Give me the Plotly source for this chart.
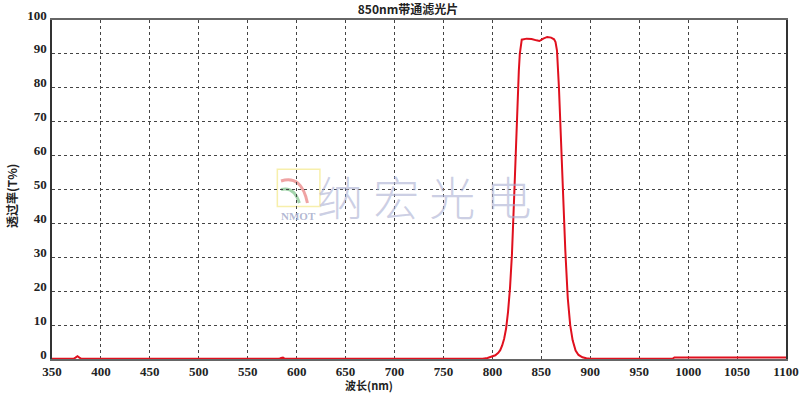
import plotly.graph_objects as go

wavelength = [350, 372, 374, 376, 378, 380, 400, 500, 582, 584, 586, 588, 700, 780, 790, 795, 800, 803, 806, 808, 810, 812,
              814, 816, 818, 820, 822, 824, 826, 827, 828, 829, 830, 835, 840, 845, 848, 852, 856, 860, 863, 864.5,
              866, 868, 870, 872, 874.5, 877, 879.5, 882, 885, 888, 892, 896, 900, 950, 984, 986, 1100]
transmission = [0.05, 0.05, 0.4, 0.8, 0.4, 0.05, 0.05, 0.05, 0.05, 0.3, 0.4, 0.05, 0.05, 0.05, 0.1, 0.3, 0.7, 1.1, 1.8, 2.6, 4, 6,
                9, 14, 21, 31, 46, 63, 78, 85, 90, 93, 94.2, 94.5, 94.4, 94.0, 93.8, 94.5, 95.0, 94.8, 94.3, 93.5,
                91, 80, 65, 48, 32, 18, 10, 5.5, 2.5, 1.2, 0.5, 0.2, 0.1, 0.05, 0.05, 0.45, 0.45]

title_text = "850nm带通滤光片"
x_title = "波长(nm)"
y_title = "透过率(T%)"
x_ticks = list(range(350, 1101, 50))
y_ticks = list(range(0, 101, 10))

serif = "'Liberation Serif', 'DejaVu Serif', serif"
tickfont = dict(family=serif, size=13, color="#222", weight="bold")
cjk = "Noto Sans CJK SC"

fig = go.Figure()
fig.add_trace(go.Scatter(x=wavelength, y=transmission, mode="lines",
                         line=dict(color="#e0101e", width=2), line_shape="linear",
                         hoverinfo="skip", showlegend=False))

fig.update_layout(
    width=800, height=394,
    margin=dict(l=52, r=14, t=20, b=35, autoexpand=False),
    paper_bgcolor="white", plot_bgcolor="white",
    title=dict(text=title_text, x=0.51, xanchor="center", y=0.985, yanchor="top",
               font=dict(family=cjk, size=12, color="#222", weight="bold")),
)
fig.update_xaxes(range=[350, 1100], tickvals=x_ticks, ticks="", tickfont=tickfont, automargin=False,
                 ticklabelstandoff=0,
                 showgrid=True, gridcolor="#444", griddash="dot", gridwidth=1,
                 showline=True, linecolor="#666", linewidth=1.5, mirror=True, zeroline=False)
fig.update_yaxes(range=[0, 100], tickvals=y_ticks, ticks="", tickfont=tickfont, automargin=False,
                 ticklabelstandoff=1, ticklabelshift=-5,
                 showgrid=True, gridcolor="#444", griddash="dot", gridwidth=1,
                 showline=True, linecolor="#333", linewidth=1.5, mirror=True, zeroline=False)

fig.add_annotation(text=x_title, xref="paper", yref="paper", x=0.432, y=-0.1035, yanchor="bottom", showarrow=False,
                   borderpad=0, font=dict(family=cjk, size=11, color="#222", weight="bold"))
fig.add_annotation(text=y_title, xref="paper", yref="paper", x=-0.055, y=0.48, xanchor="center", yanchor="middle",
                   textangle=-90, showarrow=False,
                   font=dict(family=cjk, size=12, color="#222", weight="bold"))

# watermark logo
fig.add_shape(type="rect", xref="paper", yref="paper", x0=0.307, x1=0.365, y0=0.45, y1=0.56,
              line=dict(color="rgba(245,235,150,0.8)", width=1.5), layer="below")
fig.add_shape(type="path", xref="paper", yref="paper",
              path="M 0.312 0.525 Q 0.340 0.545 0.348 0.46", line=dict(color="rgba(235,140,140,0.8)", width=3), layer="below")
fig.add_shape(type="path", xref="paper", yref="paper",
              path="M 0.312 0.50 Q 0.330 0.51 0.337 0.46", line=dict(color="rgba(140,200,150,0.8)", width=3), layer="below")
fig.add_annotation(text="NMOT", xref="paper", yref="paper", x=0.336, y=0.445, yanchor="top", showarrow=False,
                   font=dict(family=serif, size=11, color="rgba(170,175,205,0.9)", weight="bold"))
fig.add_annotation(text="纳 宏 光 电", xref="paper", yref="paper", x=0.508, y=0.484, showarrow=False,
                   font=dict(family=cjk, size=46, color="rgba(170,175,210,0.6)", weight=300))

fig.write_html("out.html")
